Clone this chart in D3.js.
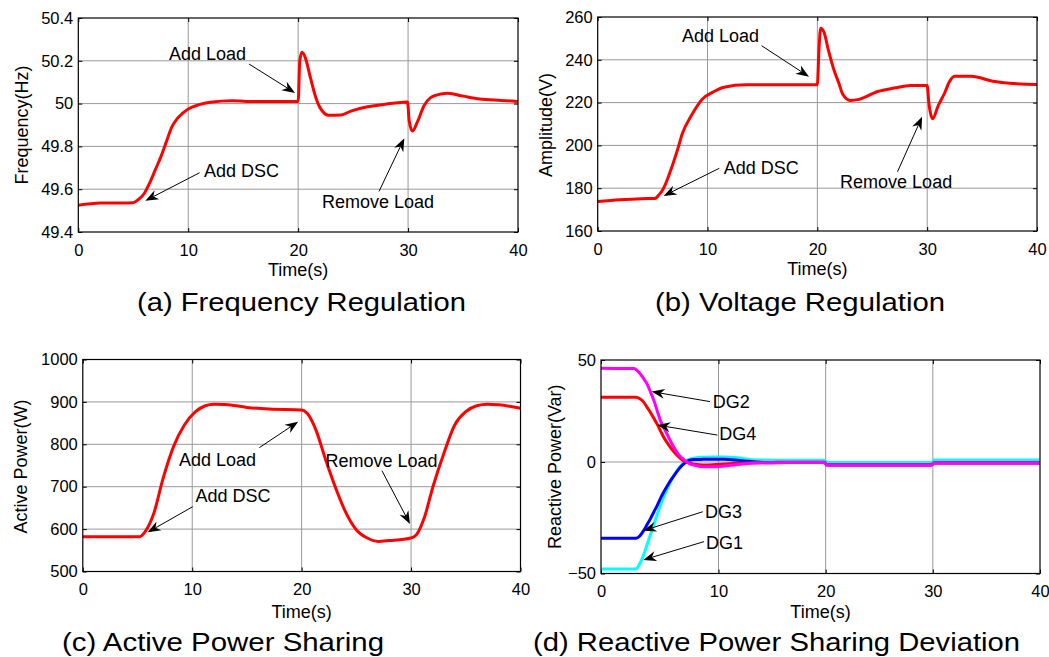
<!DOCTYPE html>
<html>
<head>
<meta charset="UTF-8">
<title>DSC Simulation Results</title>
<script src="https://cdn.jsdelivr.net/npm/d3@7"></script>
<style>
  body { margin: 0; background: #fff; }
  text { font-family: "Liberation Sans", Arial, sans-serif; fill: #000; }
</style>
</head>
<body>
<svg id="svg1" width="1049" height="657"></svg>
<script>
// ---------- data ----------
var xTicks = [0, 10, 20, 30, 40];

// (a) frequency
var timeA = [0, 2, 5, 5.5, 6, 6.5, 7, 7.5, 8, 8.5, 9, 9.5, 10, 11, 12, 14, 16, 18, 20,
             20.15, 20.35, 20.65, 21.1, 21.6, 22, 22.8, 23.9, 24.8, 26.3, 27.8, 29.95,
             30.1, 30.4, 30.85, 31.45, 32.05, 33, 33.6, 35, 36.5, 38.5, 40];
var freqA = [49.525, 49.535, 49.537, 49.553, 49.58, 49.63, 49.69, 49.75, 49.82, 49.89, 49.93, 49.955, 49.975, 49.995, 50.006, 50.013, 50.01, 50.01, 50.01,
             50.2, 50.24, 50.215, 50.125, 50.03, 49.98, 49.945, 49.947, 49.965, 49.985, 49.996, 50.008,
             49.92, 49.872, 49.915, 49.99, 50.028, 50.045, 50.048, 50.035, 50.022, 50.015, 50.01];
var yTicksA = [49.4, 49.6, 49.8, 50, 50.2, 50.4];

// (b) voltage amplitude
var timeB = [0, 2, 4, 5.2, 5.6, 6, 6.6, 7.3, 7.7, 8.6, 9.5, 10.5, 11.5, 13.5, 20,
             20.15, 20.3, 20.6, 21, 21.5, 22, 22.3, 23, 23.8, 25.5, 27, 28.5, 30,
             30.15, 30.3, 30.5, 31, 31.6, 32, 32.5, 34, 36, 37.5, 40];
var ampB = [173.8, 174.6, 175.1, 175.2, 177, 180, 187.7, 198.5, 205.4, 214.6, 221.5, 224.9, 227.2, 228.3, 228.3,
            245, 254.8, 253, 244.6, 235.4, 228.5, 224, 221, 221.5, 225.2, 226.8, 228, 228,
            220, 215, 212.5, 218.5, 224.6, 229.5, 232.3, 232.3, 230, 229, 228.5];
var yTicksB = [160, 180, 200, 220, 240, 260];

// (c) active power
var timeC = [0, 5.2, 5.7, 6.5, 7.3, 8.3, 9.3, 10.3, 11.2, 12, 13, 15, 17, 20, 20.5, 21.3, 22.2, 23.3, 24,
             25, 26, 27, 28, 30, 30.5, 31.2, 32, 33, 34, 35, 36, 37, 38, 40];
var powC = [582, 582, 594, 638, 716, 795, 846, 877, 891, 894.5, 894, 887, 883, 881, 873, 834, 763, 684, 641,
            598, 579, 571, 573, 579, 587, 626, 700, 779, 846, 877, 891, 894.5, 893, 885];
var yTicksC = [500, 600, 700, 800, 900, 1000];

// (d) reactive power sharing deviation
var timeD = [0, 2.8, 3.0, 3.3, 3.6, 3.9, 4.2, 4.5, 4.8, 5.1, 5.4, 5.7, 6.0, 6.3, 6.6, 6.9, 7.2, 7.6,
             8.0, 8.7, 9.5, 10.5, 11.5, 12.5, 13.5, 15, 17, 19.9, 20.1, 29.9, 30.1, 40];
var dg1 = [-48, -48, -47.9, -45.6, -42.1, -37.4, -32.7, -28.0, -23.3, -18.8, -14.9, -11.3, -8.1, -5.4, -3.0, -1.1, 0.5, 1.5,
           2.0, 2.3, 2.4, 2.4, 2.2, 1.5, 1.0, 0.9, 0.8, 0.8, -0.2, -0.2, 1.0, 1.0];
var dg3 = [-34.2, -34.2, -34.2, -33.2, -31.0, -28.3, -25.5, -22.4, -19.3, -15.9, -12.9, -10.2, -7.7, -5.4, -3.3, -1.5, -0.2, 1.0,
           1.2, 1.3, 1.4, 1.3, 1.0, 0.5, 0, -0.3, -0.2, -0.2, -1.3, -1.3, -0.4, -0.4];
var dg4 = [31.7, 31.7, 31.7, 31.0, 29.6, 27.0, 24.4, 21.4, 18.3, 14.8, 11.5, 8.9, 6.5, 4.4, 2.6, 1.1, 0.2, -0.5,
           -1.0, -1.3, -1.2, -0.9, -0.6, -0.4, -0.3, -0.2, -0.1, -0.1, -1.2, -1.2, -0.3, -0.3];
var dg2 = [45.9, 45.8, 45.2, 43.5, 41.1, 38.5, 34.5, 30.2, 24.8, 19.7, 16.2, 12.8, 9.3, 6.3, 3.6, 1.9, 0.5, -1.0,
           -1.5, -2.1, -2.1, -1.8, -1.3, -0.8, -0.5, -0.3, -0.2, -0.2, -1.4, -1.4, -0.4, -0.4];
var yTicksD = [-50, 0, 50];

// annotations (data coordinates): text anchor, arrow start, arrow tip
var notesA = [
  { text: "Add Load", at: [8.25, 50.204], from: [15.53, 50.185], to: [19.72, 50.05] },
  { text: "Add DSC", at: [11.44, 49.657], from: [11.03, 49.677], to: [6.1, 49.546] },
  { text: "Remove Load", at: [22.17, 49.51], from: [27.36, 49.59], to: [29.66, 49.838] }
];
var notesB = [
  { text: "Add Load", at: [7.68, 248.3], from: [14.92, 246.6], to: [19.24, 232.1] },
  { text: "Add DSC", at: [11.48, 186.6], from: [11.07, 189.3], to: [6.0, 176.4] },
  { text: "Remove Load", at: [22.07, 180.1], from: [27.3, 187.7], to: [29.54, 213.4] }
];
var notesC = [
  { text: "Add Load", at: [8.79, 748.8], from: [16.13, 792], to: [19.68, 853.3] },
  { text: "Remove Load", at: [22.18, 747.2], from: [27.34, 737.7], to: [29.9, 612] },
  { text: "Add DSC", at: [10.29, 664.6], from: [10.04, 652.8], to: [5.93, 592.5] }
];
var notesD = [
  { text: "DG2", at: [9.51, 26.6], from: [9.28, 29.6], to: [4.31, 34.5] },
  { text: "DG4", at: [10.07, 10.8], from: [9.9, 13.2], to: [4.79, 18.1] },
  { text: "DG3", at: [8.85, -25.2], from: [8.66, -22.3], to: [3.6, -30.8] },
  { text: "DG1", at: [8.94, -39], from: [8.77, -35.7], to: [3.6, -43.9] }
];

// ---------- drawing ----------
var svg = d3.select("#svg1");
var gridColor = "#999";

function drawArrow(g, x1, y1, x2, y2) {
  var dx = x2 - x1, dy = y2 - y1;
  var len = Math.sqrt(dx * dx + dy * dy);
  var ux = dx / len, uy = dy / len;      // direction
  var nx = -uy, ny = ux;                 // normal
  var headLen = 13, halfW = 5, notch = 4;
  var bx = x2 - ux * headLen, by = y2 - uy * headLen;
  var mx = x2 - ux * (headLen - notch), my = y2 - uy * (headLen - notch);
  g.append("line")
    .attr("x1", x1).attr("y1", y1).attr("x2", mx).attr("y2", my)
    .attr("stroke", "#000").attr("stroke-width", 1);
  g.append("path")
    .attr("d", "M" + x2 + "," + y2 +
               "L" + (bx + nx * halfW) + "," + (by + ny * halfW) +
               "L" + mx + "," + my +
               "L" + (bx - nx * halfW) + "," + (by - ny * halfW) + "Z")
    .attr("fill", "#000");
}

function panel(p) {
  var x = p.x, y = p.y;
  var xr = x.range(), yr = y.range();
  var L = xr[0], R = xr[xr.length - 1], B = yr[0], T = yr[yr.length - 1];
  var g = svg.append("g");

  // grid
  g.append("g").selectAll("line").data(xTicks.slice(1, -1)).join("line")
    .attr("x1", d => x(d)).attr("x2", d => x(d)).attr("y1", T).attr("y2", B)
    .attr("stroke", gridColor).attr("stroke-width", 1);
  g.append("g").selectAll("line").data(p.yTicks.slice(1, -1)).join("line")
    .attr("x1", L).attr("x2", R).attr("y1", d => y(d)).attr("y2", d => y(d))
    .attr("stroke", gridColor).attr("stroke-width", 1);

  // axes, MATLAB style: inward ticks on all four sides
  function styleAxis(sel) {
    sel.select(".domain").remove();
    sel.selectAll("line").attr("stroke", "#000");
    sel.selectAll("text").attr("font-size", 16.5).attr("font-family", "Liberation Sans, Arial, sans-serif");
  }
  g.append("g").attr("transform", "translate(0," + B + ")")
    .call(d3.axisBottom(x).tickValues(xTicks).tickSize(-4).tickPadding(12).tickFormat(d3.format("d")))
    .call(styleAxis);
  g.append("g").attr("transform", "translate(0," + T + ")")
    .call(d3.axisTop(x).tickValues(xTicks).tickSize(-4).tickFormat(""))
    .call(styleAxis);
  g.append("g").attr("transform", "translate(" + L + ",0)")
    .call(d3.axisLeft(y).tickValues(p.yTicks).tickSize(-4).tickPadding(5).tickFormat(p.fmt))
    .call(styleAxis);
  g.append("g").attr("transform", "translate(" + R + ",0)")
    .call(d3.axisRight(y).tickValues(p.yTicks).tickSize(-4).tickFormat(""))
    .call(styleAxis);

  // series
  var line = d3.line().x(d => x(d[0])).y(d => y(d[1])).curve(d3.curveMonotoneX);
  p.series.forEach(function (s) {
    g.append("path").datum(d3.zip(p.time, s.values))
      .attr("d", line).attr("fill", "none")
      .attr("stroke", s.color).attr("stroke-width", 3)
      .attr("stroke-linejoin", "round");
  });

  // box
  g.append("rect").attr("x", L).attr("y", T).attr("width", R - L).attr("height", B - T)
    .attr("fill", "none").attr("stroke", "#000").attr("stroke-width", 1.2);

  // annotations
  p.notes.forEach(function (n) {
    g.append("text").attr("x", x(n.at[0])).attr("y", y(n.at[1]))
      .attr("font-size", 18).text(n.text);
    drawArrow(g, x(n.from[0]), y(n.from[1]), x(n.to[0]), y(n.to[1]));
  });

  // axis labels
  g.append("text").attr("x", (L + R) / 2).attr("y", B + p.xLabelGap)
    .attr("text-anchor", "middle").attr("font-size", 18).text("Time(s)");
  g.append("text")
    .attr("transform", "translate(" + (L - p.yLabelGap) + "," + ((T + B) / 2 + p.yLabelShift) + ") rotate(-90)")
    .attr("text-anchor", "middle").attr("font-size", 18).text(p.yLabel);

  // caption
  g.append("text").attr("x", p.caption.x).attr("y", p.caption.y)
    .attr("font-size", 26).attr("textLength", p.caption.w).attr("lengthAdjust", "spacingAndGlyphs")
    .text(p.caption.text);
}

var fmt1 = d => d3.format(".1f")(d).replace(/\.0$/, "");

panel({
  x: d3.scaleLinear().domain([0, 40]).range([78.3, 518]),
  y: d3.scaleLinear().domain([49.4, 50.4]).range([232, 18]),
  yTicks: yTicksA, fmt: fmt1, time: timeA,
  series: [{ values: freqA, color: "#ff0000" }],
  notes: notesA, yLabel: "Frequency(Hz)", yLabelGap: 50, yLabelShift: 0, xLabelGap: 44,
  caption: { text: "(a) Frequency Regulation", x: 137, y: 311, w: 329 }
});

panel({
  x: d3.scaleLinear().domain([0, 40]).range([597.7, 1037]),
  y: d3.scaleLinear().domain([160, 260]).range([231, 17]),
  yTicks: yTicksB, fmt: d3.format("d"), time: timeB,
  series: [{ values: ampB, color: "#ff0000" }],
  notes: notesB, yLabel: "Amplitude(V)", yLabelGap: 46, yLabelShift: 1, xLabelGap: 44,
  caption: { text: "(b) Voltage Regulation", x: 655, y: 311, w: 290 }
});

panel({
  x: d3.scaleLinear().domain([0, 40]).range([82.8, 520.5]),
  y: d3.scaleLinear().domain([500, 1000]).range([571.5, 359.5]),
  yTicks: yTicksC, fmt: d3.format("d"), time: timeC,
  series: [{ values: powC, color: "#ff0000" }],
  notes: notesC, yLabel: "Active Power(W)", yLabelGap: 55.5, yLabelShift: 1, xLabelGap: 46,
  caption: { text: "(c) Active Power Sharing", x: 62, y: 651, w: 322 }
});

panel({
  x: d3.scaleLinear().domain([0, 10, 40]).range([601, 718.5, 1040]),
  y: d3.scaleLinear().domain([-50, 0, 50]).range([573.5, 462, 360]),
  yTicks: yTicksD, fmt: d3.format("d"), time: timeD,
  series: [
    { values: dg1, color: "#00ffff" },
    { values: dg3, color: "#0000ff" },
    { values: dg4, color: "#ff0000" },
    { values: dg2, color: "#ff00ff" }
  ],
  notes: notesD, yLabel: "Reactive Power(Var)", yLabelGap: 40.5, yLabelShift: 0, xLabelGap: 44.5,
  caption: { text: "(d) Reactive Power Sharing Deviation", x: 533, y: 651, w: 487 }
});
</script>
</body>
</html>
